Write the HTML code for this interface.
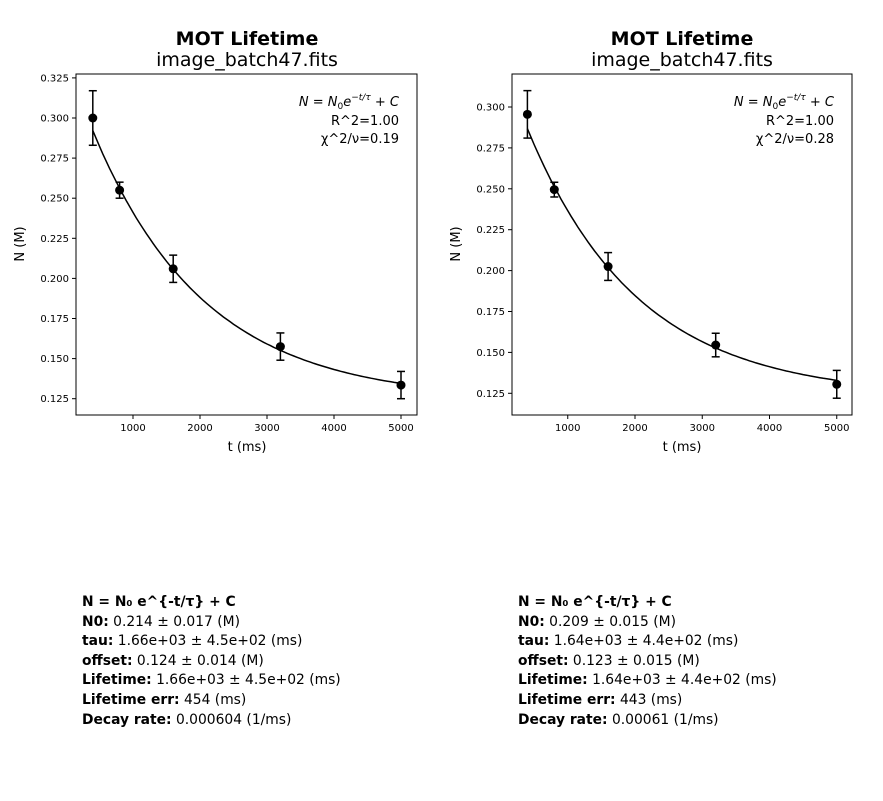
<!DOCTYPE html>
<html><head><meta charset="utf-8"><style>
body{margin:0;background:#fff;width:883px;height:801px;overflow:hidden;font-family:"DejaVu Sans","Liberation Sans",sans-serif;}
.info{position:absolute;font-size:13.85px;line-height:19.6px;color:#000;}
</style></head><body>
<svg id="s" width="883" height="801" style="position:absolute;left:0;top:0" font-family="DejaVu Sans, Liberation Sans, sans-serif"></svg>
<div class="info" style="left:82px;top:593px"><b>N = N₀ e^{-t/τ} + C</b><br><b>N0:</b> 0.214 ± 0.017 (M)<br><b>tau:</b> 1.66e+03 ± 4.5e+02 (ms)<br><b>offset:</b> 0.124 ± 0.014 (M)<br><b>Lifetime:</b> 1.66e+03 ± 4.5e+02 (ms)<br><b>Lifetime err:</b> 454 (ms)<br><b>Decay rate:</b> 0.000604 (1/ms)</div>
<div class="info" style="left:518px;top:593px"><b>N = N₀ e^{-t/τ} + C</b><br><b>N0:</b> 0.209 ± 0.015 (M)<br><b>tau:</b> 1.64e+03 ± 4.4e+02 (ms)<br><b>offset:</b> 0.123 ± 0.015 (M)<br><b>Lifetime:</b> 1.64e+03 ± 4.4e+02 (ms)<br><b>Lifetime err:</b> 443 (ms)<br><b>Decay rate:</b> 0.00061 (1/ms)</div>
<script>
var s=document.getElementById('s'),h='';
function plot(o){
 var X=function(t){return o.x0+t*o.xs/1000},Y=function(v){return o.y0-(v-o.v0)/0.025*o.ys};
 h+='<text x="'+o.cx+'" y="45" font-size="19" font-weight="bold" text-anchor="middle">MOT Lifetime</text>';
 h+='<text x="'+o.cx+'" y="66" font-size="19" text-anchor="middle">image_batch47.fits</text>';
 h+='<rect x="'+o.L+'" y="74" width="'+(o.R-o.L)+'" height="341" fill="none" stroke="#000" stroke-width="1"/>';
 for(var i=1;i<=5;i++){var x=X(i*1000);h+='<line x1="'+x+'" x2="'+x+'" y1="415" y2="419" stroke="#000"/><text x="'+x+'" y="431" font-size="10" text-anchor="middle">'+(i*1000)+'</text>';}
 o.ticks.forEach(function(v){var y=Y(v);h+='<line x1="'+(o.L-4)+'" x2="'+o.L+'" y1="'+y+'" y2="'+y+'" stroke="#000"/><text x="'+(o.L-7)+'" y="'+(y+3.5)+'" font-size="10" text-anchor="end">'+v.toFixed(3)+'</text>';});
 h+='<text x="'+o.cx+'" y="451" font-size="13" text-anchor="middle">t (ms)</text>';
 h+='<text transform="translate('+(o.L-52)+',244) rotate(-90)" font-size="13" text-anchor="middle">N (M)</text>';
 var p='';for(var t=400;t<=5000;t+=50){p+=(t==400?'M':'L')+X(t).toFixed(1)+','+Y(o.N0*Math.exp(-t/o.tau)+o.C).toFixed(1);}
 h+='<path d="'+p+'" fill="none" stroke="#000" stroke-width="1.5"/>';
 o.pts.forEach(function(q){var x=X(q[0]),y=Y(q[1]),a=Y(q[1]+q[2]),b=Y(q[1]-q[2]);
  h+='<line x1="'+x+'" x2="'+x+'" y1="'+a+'" y2="'+b+'" stroke="#000" stroke-width="1.5"/><line x1="'+(x-4)+'" x2="'+(x+4)+'" y1="'+a+'" y2="'+a+'" stroke="#000" stroke-width="1.5"/><line x1="'+(x-4)+'" x2="'+(x+4)+'" y1="'+b+'" y2="'+b+'" stroke="#000" stroke-width="1.5"/><circle cx="'+x+'" cy="'+y+'" r="4.5" fill="#000"/>';});
 var r=o.R-18;
 h+='<text x="'+r+'" y="106" font-size="13" text-anchor="end"><tspan font-style="italic">N</tspan> = <tspan font-style="italic">N</tspan><tspan font-size="9" dy="3">0</tspan><tspan font-style="italic" dy="-3">e</tspan><tspan font-size="9" font-style="italic" dy="-6">−t/τ</tspan><tspan dy="6"> + </tspan><tspan font-style="italic">C</tspan></text>';
 h+='<text x="'+r+'" y="125" font-size="13" text-anchor="end">R^2=1.00</text>';
 h+='<text x="'+r+'" y="143" font-size="13" text-anchor="end">χ^2/ν=0.'+o.chi+'</text>';
}
plot({cx:247,L:76,R:417,x0:66,xs:67,y0:118,v0:0.3,ys:40.1,ticks:[0.325,0.3,0.275,0.25,0.225,0.2,0.175,0.15,0.125],N0:0.214,tau:1660,C:0.124,chi:'19',
 pts:[[400,0.300,0.017],[800,0.255,0.005],[1600,0.206,0.0085],[3200,0.1575,0.0085],[5000,0.1335,0.0085]]});
plot({cx:682,L:512,R:852,x0:500.5,xs:67.25,y0:107,v0:0.3,ys:40.9,ticks:[0.3,0.275,0.25,0.225,0.2,0.175,0.15,0.125],N0:0.209,tau:1640,C:0.123,chi:'28',
 pts:[[400,0.2955,0.0145],[800,0.2495,0.0045],[1600,0.2025,0.0085],[3200,0.1545,0.0072],[5000,0.1305,0.0085]]});
s.innerHTML=h;
</script>
</body></html>
